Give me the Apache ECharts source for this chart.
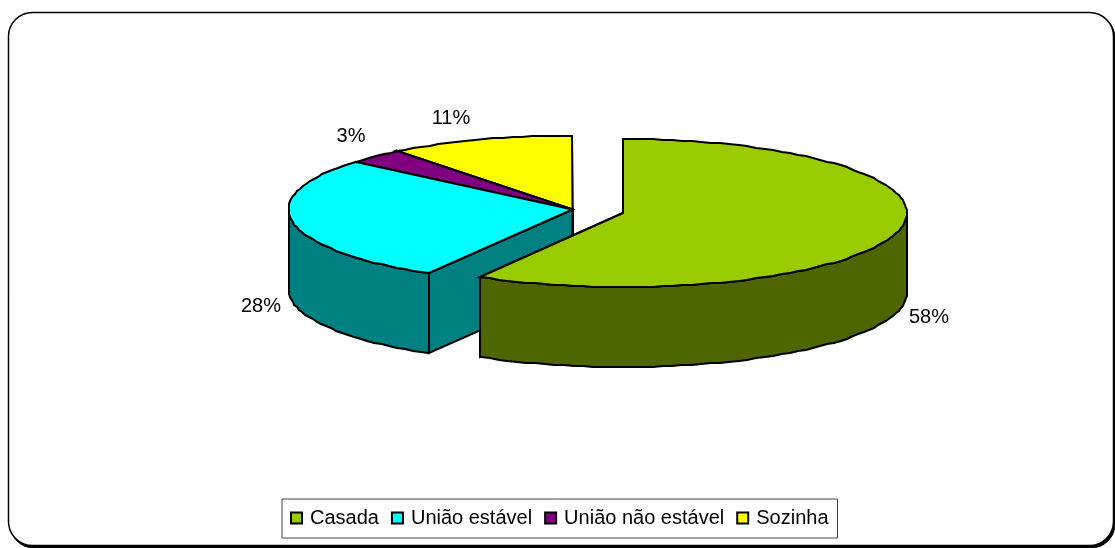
<!DOCTYPE html>
<html>
<head>
<meta charset="utf-8">
<style>html,body{margin:0;padding:0;background:#fff}#chart{width:1115px;height:548px}</style>
<script src="https://cdn.jsdelivr.net/npm/echarts@6/dist/echarts.min.js"></script>
</head>
<body>
<div id="chart"></div>
<script>
// valores
const categories = ['Casada', 'União estável', 'União não estável', 'Sozinha']
const shares = [58.4, 27.8, 3.2, 10.6]
const shownLabels = ['58%', '28%', '3%', '11%']

const topColors = ['#99cc00', '#00ffff', '#800080', '#ffff00']
const wallColors = ['#4d6600', '#008080', '#400040', '#808000']

// elipse do topo da pizza e fatia destacada
const cx = 572.5, cy = 209.5, rx = 284, ry = 74, depth = 80
const explode = [[50.5, 3.5], [0, 0], [0, 0], [0, 0]]
const labelNudge = [[32, 5], [-32, 4], [-25, -20], [-29, -22]]

const rim = (deg, ox, oy, dy) => {
  const a = deg * Math.PI / 180
  return [Math.round(cx + ox + rx * Math.sin(a)), Math.round(cy + oy - ry * Math.cos(a) + dy)]
}

const arc = (from, to, ox, oy, dy) => {
  const pts = []
  for (let d = from; d < to; d += 2) pts.push(rim(d, ox, oy, dy))
  pts.push(rim(to, ox, oy, dy))
  return pts
}

const poly = (points, fill) => ({
  type: 'polygon',
  shape: { points },
  style: { fill, stroke: '#000', lineWidth: 2, lineJoin: 'miter' },
  silent: true
})

// cada fatia: faces de corte, parede externa e topo
const sliceRenderer = (i, start, end) => () => {
  const [ox, oy] = explode[i]
  const apex = [cx + ox, cy + oy]
  const apexLow = [cx + ox, cy + oy + depth]
  const wall = wallColors[i]
  const children = []

  const a = rim(start, ox, oy, 0), b = rim(end, ox, oy, 0)
  children.push(poly([apex, b, rim(end, ox, oy, depth), apexLow], wall))
  children.push(poly([apex, a, rim(start, ox, oy, depth), apexLow], wall))

  const wFrom = Math.max(start, 90), wTo = Math.min(end, 270)
  if (wFrom < wTo) {
    const upper = arc(wFrom, wTo, ox, oy, 0)
    const lower = arc(wFrom, wTo, ox, oy, depth).reverse()
    children.push(poly(upper.concat(lower), wall))
  }

  children.push(poly([apex].concat(arc(start, end, ox, oy, 0)), topColors[i]))

  const mid = (start + end) / 2
  const front = mid > 90 && mid < 270 || i === 1
  const p = rim(mid, ox, oy, front ? depth : 0)
  children.push({
    type: 'text',
    silent: true,
    style: {
      x: p[0] + labelNudge[i][0],
      y: p[1] + labelNudge[i][1],
      text: shownLabels[i],
      fill: '#000',
      font: '20px "Liberation Sans", Arial, sans-serif',
      align: 'center',
      verticalAlign: 'middle'
    }
  })
  return { type: 'group', children }
}

const total = shares.reduce((s, v) => s + v, 0)
let acc = 0
const slices = shares.map((v, i) => {
  const start = acc / total * 360
  acc += v
  return { i, start, end: acc / total * 360 }
})

const series = slices.map(s => ({
  type: 'custom',
  name: categories[s.i],
  coordinateSystem: 'none',
  data: [shares[s.i]],
  z: 10 - s.i,
  itemStyle: { color: topColors[s.i] },
  renderItem: sliceRenderer(s.i, s.start, s.end),
  animation: false
}))

const chart = echarts.init(document.getElementById('chart'))
chart.setOption({
  animation: false,
  backgroundColor: '#fff',
  graphic: [
    { type: 'rect', silent: true, z: 0, shape: { x: 10, y: 14, width: 1105, height: 534, r: 24 }, style: { fill: '#000', stroke: '#000', lineWidth: 1 } },
    { type: 'rect', silent: true, z: 1, shape: { x: 8.5, y: 12.5, width: 1105, height: 533, r: 24 }, style: { fill: '#fff', stroke: '#000', lineWidth: 1.5 } }
  ],
  legend: {
    data: categories,
    left: 282,
    top: 499,
    orient: 'horizontal',
    padding: [9, 9, 10, 8],
    itemGap: 12,
    itemWidth: 11,
    itemHeight: 11,
    icon: 'rect',
    selectedMode: false,
    borderColor: '#444',
    borderWidth: 1,
    backgroundColor: '#fff',
    itemStyle: { borderColor: '#000', borderWidth: 2 },
    textStyle: { color: '#000', fontSize: 20, fontFamily: '"Liberation Sans", Arial, sans-serif', padding: [0, 0, 0, 3] }
  },
  series
})
</script>
</body>
</html>
